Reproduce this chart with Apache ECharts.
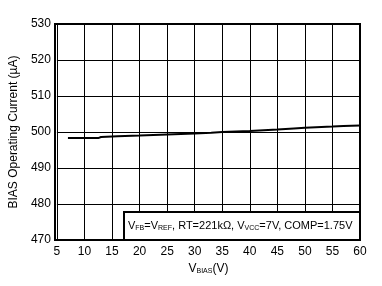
<!DOCTYPE html>
<html><head><meta charset="utf-8">
<script src="https://cdn.jsdelivr.net/npm/echarts@6/dist/echarts.min.js"></script>
<style>html,body{margin:0;padding:0;background:#fff}#c{width:382px;height:286px}</style>
</head><body><div id="c"></div>
<script>
const vbias = [7, 12.5, 13, 16, 20, 25, 30, 33, 35, 40, 45, 48, 50, 55, 57, 60];
const current = [498.3, 498.3, 498.6, 498.8, 499.0, 499.3, 499.6, 499.8, 500.0, 500.3, 500.7, 501.0, 501.2, 501.5, 501.7, 501.8];
const xTicks = [5, 10, 15, 20, 25, 30, 35, 40, 45, 50, 55, 60];
const yTicks = [470, 480, 490, 500, 510, 520, 530];

const font = 'Liberation Sans, Arial, sans-serif';
const chart = echarts.init(document.getElementById('c'), null, {renderer: 'canvas'});
const sub = {fontSize: 7, fontFamily: font, color: '#000', fill: '#000', verticalAlign: 'bottom', padding: [5, 0, 0, 0]};
chart.setOption({
  animation: false,
  backgroundColor: '#fff',
  grid: {left: 55, right: 22, top: 24, bottom: 46},
  xAxis: {
    type: 'value', min: xTicks[0], max: xTicks[xTicks.length - 1], interval: 5,
    axisLine: {show: false},
    axisTick: {show: false},
    splitLine: {show: true, lineStyle: {color: '#000', width: 1}},
    axisLabel: {color: '#000', fontFamily: font, fontSize: 12, margin: 6},
    name: '{v|V}{s|BIAS}{v|(V)}', nameLocation: 'middle', nameGap: 23,
    nameTextStyle: {rich: {v: {fontSize: 12, fontFamily: font, color: '#000'}, s: sub}}
  },
  yAxis: {
    type: 'value', min: yTicks[0], max: yTicks[yTicks.length - 1], interval: 10,
    axisLine: {show: false},
    axisTick: {show: false},
    splitLine: {show: true, lineStyle: {color: '#000', width: 1}},
    axisLabel: {color: '#000', fontFamily: font, fontSize: 12, margin: 6},
    name: 'BIAS Operating Current (µA)', nameLocation: 'middle', nameGap: 34,
    nameTextStyle: {color: '#000', fontFamily: font, fontSize: 12}
  },
  series: [{
    type: 'line', data: vbias.map((x, i) => [x, current[i]]),
    symbol: 'none', lineStyle: {color: '#000', width: 2}
  }],
  graphic: [
    {type: 'rect', shape: {x: 55, y: 24, width: 305, height: 216}, style: {fill: 'none', stroke: '#000', lineWidth: 2}, z: 10},
    {type: 'rect', shape: {x: 124, y: 212, width: 236, height: 28}, style: {fill: '#fff', stroke: '#000', lineWidth: 2}, z: 11},
    {type: 'text', x: 128, y: 220, z: 12, style: {
      text: '{v|V}{s|FB}{v|=V}{s|REF}{v|, RT=221kΩ, V}{s|VCC}{v|=7V, COMP=1.75V}',
      rich: {v: {fontSize: 11, fontFamily: font, fill: '#000', color: '#000'}, s: sub}
    }}
  ]
});
</script></body></html>
